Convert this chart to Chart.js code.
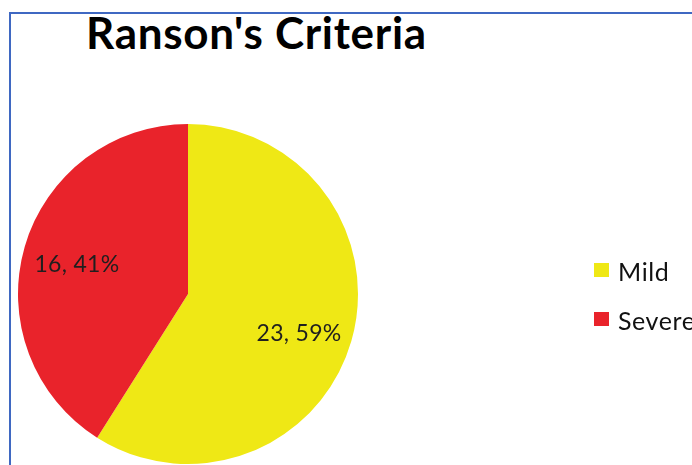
<!DOCTYPE html>
<html>
<head>
<meta charset="utf-8">
<script src="https://cdn.jsdelivr.net/npm/chart.js@4/dist/chart.umd.min.js"></script>
<style>
  html, body { margin: 0; padding: 0; background: #fff; }
  #frame {
    position: absolute; left: 9px; top: 12px; width: 700px; height: 470px;
    border-top: 2px solid #3f68c2; border-left: 2px solid #3f68c2;
  }
  #title {
    position: absolute; left: 86px; top: 6px;
    font: bold 44px Lato, "Open Sans", sans-serif; letter-spacing: 0.7px;
    color: #000;
  }
  #wrap { position: absolute; left: 0; top: 0; width: 692px; height: 465px; }
</style>
</head>
<body>
<div id="frame"></div>
<div id="title">Ranson's Criteria</div>
<div id="wrap"><canvas id="pie"></canvas></div>
<script>
/* ─── Data ───────────────────────────────────────────────────────────────── */
const categories = ['Mild', 'Severe'];
const counts     = [23, 16];
const percents   = [59, 41];
const colors     = ['#efe815', '#e9232b'];

/* ─── Plugins ────────────────────────────────────────────────────────────── */
// value labels "n, p%" inside each slice
const sliceLabels = {
  id: 'sliceLabels',
  afterDatasetsDraw(chart) {
    const { ctx } = chart;
    const meta = chart.getDatasetMeta(0);
    ctx.save();
    ctx.font = '23px Lato, "Open Sans", sans-serif';
    ctx.letterSpacing = '0.3px';
    ctx.fillStyle = '#1f1f1f';
    ctx.textAlign = 'center';
    ctx.textBaseline = 'middle';
    meta.data.forEach((arc, i) => {
      const mid = (arc.startAngle + arc.endAngle) / 2;
      const r = arc.outerRadius * 0.68;
      const dy = i === 0 ? 7 : 3;
      ctx.fillText(`${counts[i]}, ${percents[i]}%`,
        arc.x + Math.cos(mid) * r, arc.y + Math.sin(mid) * r + dy);
    });
    ctx.restore();
  }
};

// legend on the right, square swatches
const sideLegend = {
  id: 'sideLegend',
  afterDraw(chart) {
    const { ctx } = chart;
    ctx.save();
    ctx.font = '25px Lato, "Open Sans", sans-serif';
    ctx.letterSpacing = '0.6px';
    ctx.textBaseline = 'alphabetic';
    categories.forEach((name, i) => {
      const base = 281 + i * 49;
      ctx.fillStyle = colors[i];
      ctx.fillRect(594, base - 18, 15, 14);
      ctx.fillStyle = '#111';
      ctx.fillText(name, 618, base);
    });
    ctx.restore();
  }
};

/* ─── Chart ──────────────────────────────────────────────────────────────── */
new Chart(document.getElementById('pie'), {
  type: 'pie',
  data: {
    labels: categories,
    datasets: [{
      data: counts,
      backgroundColor: colors,
      borderWidth: 0
    }]
  },
  options: {
    responsive: true,
    maintainAspectRatio: false,
    animation: false,
    layout: { padding: { left: 18, right: 334, top: 124, bottom: 1 } },
    plugins: {
      legend:  { display: false },
      tooltip: { enabled: false }
    }
  },
  plugins: [sliceLabels, sideLegend]
});
</script>
</body>
</html>
